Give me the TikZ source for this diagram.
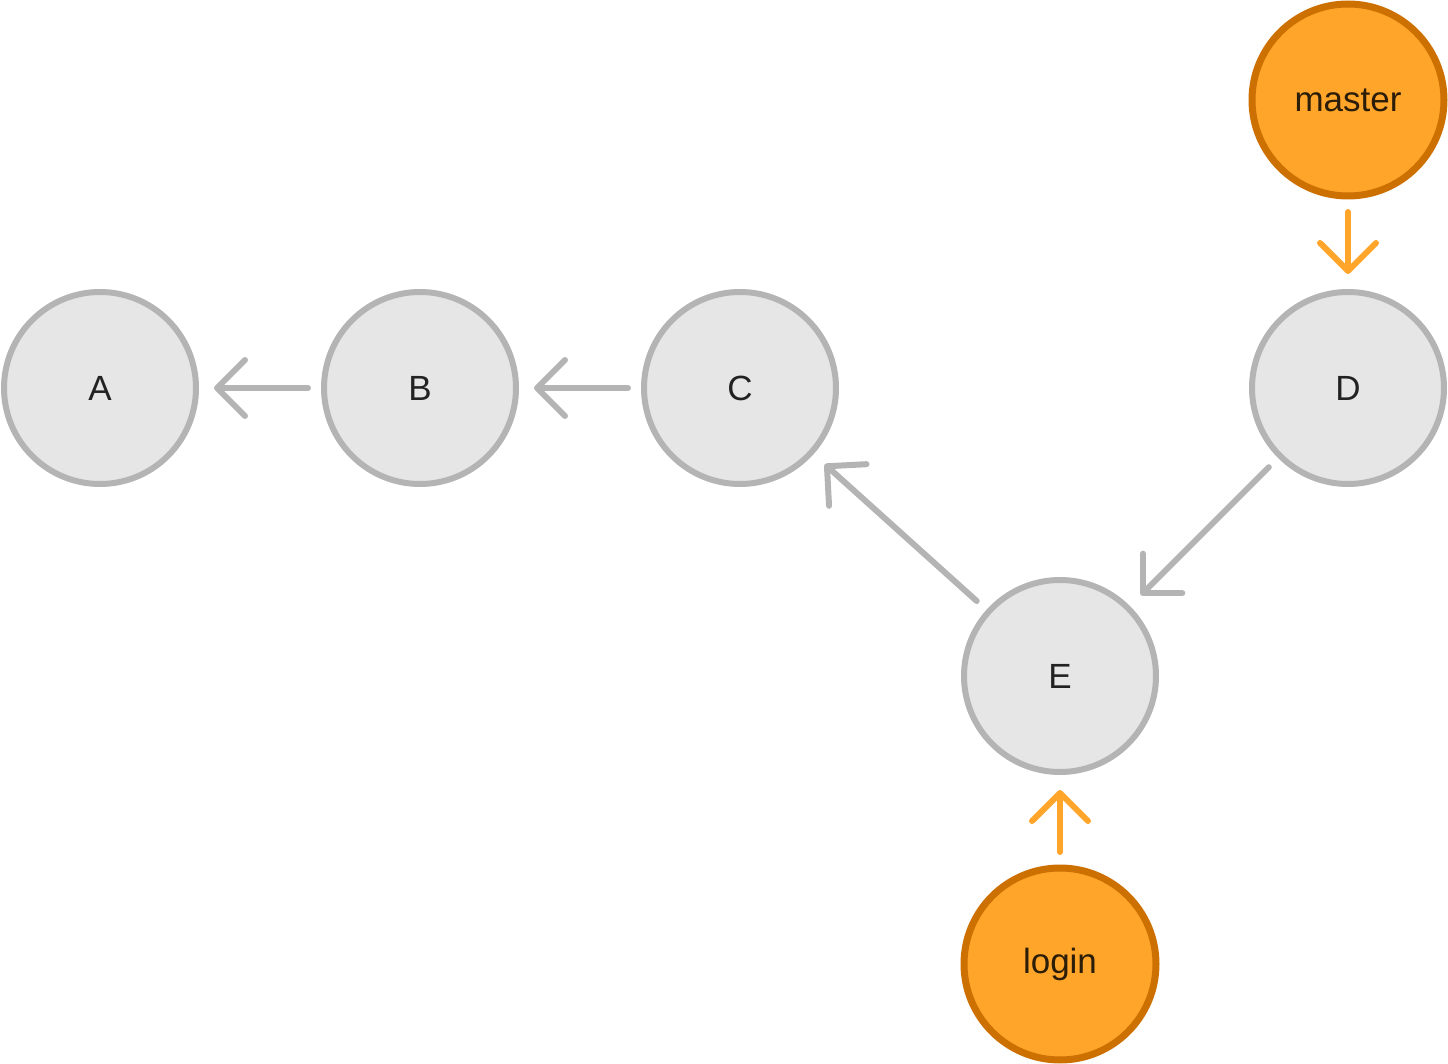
\documentclass[tikz,border=0pt]{standalone}
\usepackage{fontspec}
\setmainfont{Liberation Sans}
\usetikzlibrary{arrows.meta}
\definecolor{cfill}{HTML}{E6E6E6}
\definecolor{cline}{HTML}{B4B4B4}
\definecolor{ofill}{HTML}{FFA52A}
\definecolor{oline}{HTML}{CC7000}
\definecolor{otext}{HTML}{2B1D07}
\definecolor{ctext}{HTML}{222222}
\tikzset{
  commit/.style={circle, draw=cline, fill=cfill, line width=3pt, minimum size=96pt, inner sep=0pt, outer sep=0pt, text=ctext, font=\fontsize{17.5}{20}\selectfont},
  branch/.style={circle, draw=oline, fill=ofill, line width=3.5pt, minimum size=96pt, inner sep=0pt, outer sep=0pt, text=otext, font=\fontsize{17.5}{20}\selectfont},
  link/.style={draw=cline, line width=3pt, line cap=round, line join=round, shorten >=9pt, shorten <=8pt,
    -{Straight Barb[length=14pt, width=28pt, line width=3pt, line cap=round, line join=round]}},
  blink/.style={link, draw=ofill}
}
\begin{document}
\begin{tikzpicture}[x=0.5pt, y=-0.5pt]
\useasboundingbox (0,0) rectangle (1448,1064);
\node[commit] (A) at (100,388) {A};
\node[commit] (B) at (420,388) {B};
\node[commit] (C) at (740,388) {C};
\node[commit] (D) at (1348,388) {D};
\node[commit] (E) at (1060,676) {E};
\node[branch] (master) at (1348,100) {master};
\node[branch] (login) at (1060,964) {login};
\draw[link] (B) -- (A);
\draw[link] (C) -- (B);
\draw[link] (E) -- (C);
\draw[link] (D) -- (E);
\draw[blink] (master) -- (D);
\draw[blink] (login) -- (E);
\end{tikzpicture}
\end{document}
